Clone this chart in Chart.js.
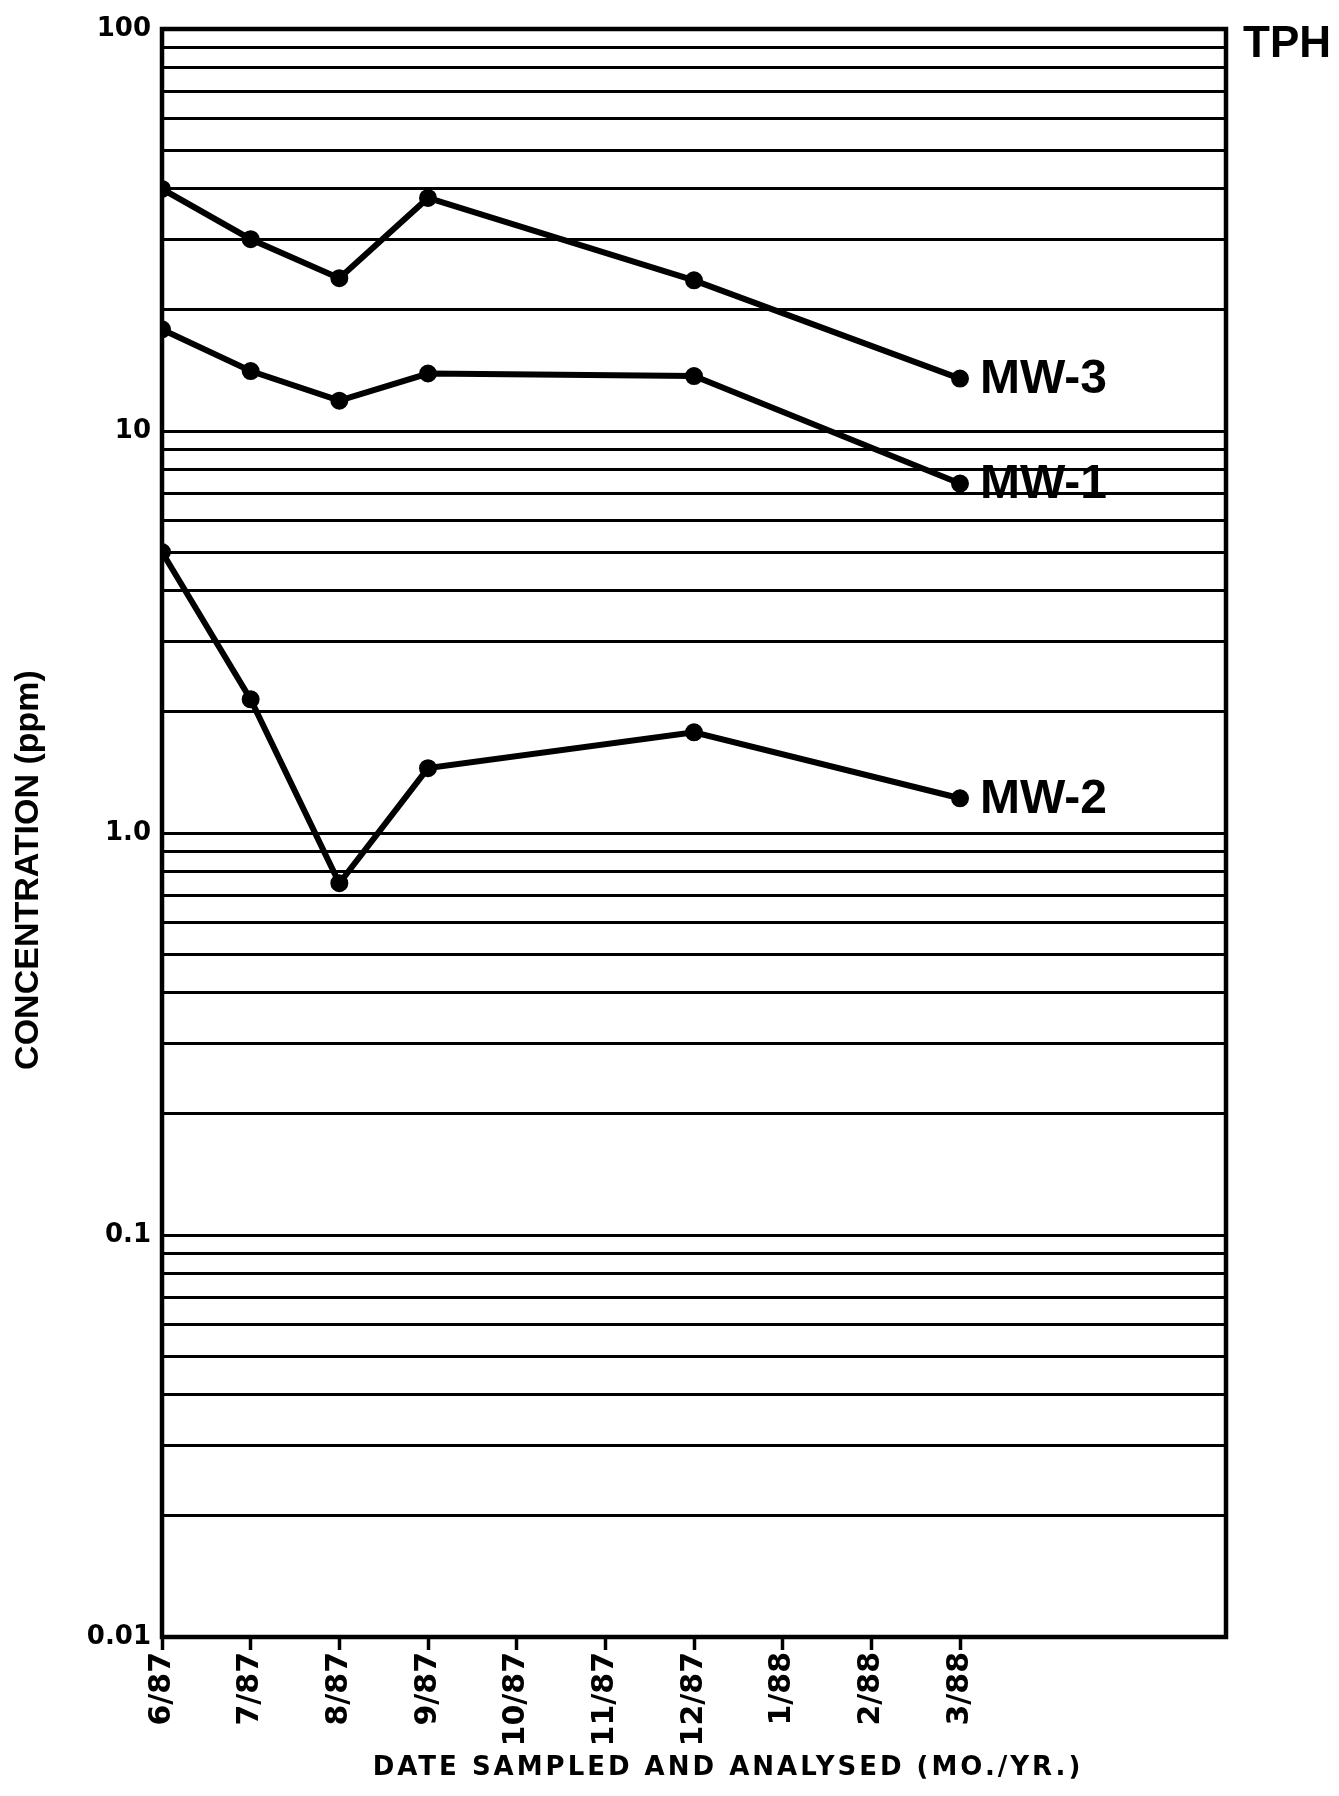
<!DOCTYPE html>
<html lang="en">
<head>
  <meta charset="UTF-8" />
  <title>TPH Concentration</title>
  <script src="https://cdn.jsdelivr.net/npm/chart.js"></script>
  <style>
    body { margin: 0; background: #fff; }
    #wrap { width: 1339px; height: 1796px; position: relative; }
  </style>
</head>
<body>
  <div id="wrap"><canvas id="tph"></canvas></div>

  <script>
    // month axis, 6/87 = 0
    const monthLabels = ["6/87", "7/87", "8/87", "9/87", "10/87", "11/87", "12/87", "1/88", "2/88", "3/88"];
    const sampleMonths = [0, 1, 2, 3, 6, 9];

    const mw3 = [40, 30, 24, 38, 23.7, 13.5];
    const mw1 = [17.9, 14.1, 11.9, 13.9, 13.7, 7.4];
    const mw2 = [5.0, 2.15, 0.75, 1.45, 1.78, 1.22];

    const decadeLabels = { "100": "100", "10": "10", "1": "1.0", "0.1": "0.1", "0.01": "0.01" };
    const decades = [0.01, 0.1, 1, 10];

    const toPoints = (vals) => vals.map((v, i) => ({ x: sampleMonths[i], y: v }));

    const ink = "#000";

    const framePlugin = {
      id: "frame",
      beforeDatasetsDraw(chart) {
        const { ctx, chartArea: a } = chart;
        ctx.save();
        ctx.strokeStyle = ink;
        ctx.lineWidth = 4.5;
        ctx.strokeRect(a.left, a.top, a.right - a.left, a.bottom - a.top);
        ctx.restore();
      }
    };

    const textPlugin = {
      id: "texts",
      afterDatasetsDraw(chart) {
        const { ctx, chartArea: a } = chart;
        ctx.save();
        ctx.fillStyle = ink;

        // series names next to last point
        ctx.font = "bold 48px 'Liberation Sans', Arial, sans-serif";
        ctx.textAlign = "left";
        ctx.textBaseline = "middle";
        chart.data.datasets.forEach((ds, i) => {
          const pts = chart.getDatasetMeta(i).data;
          const last = pts[pts.length - 1];
          ctx.fillText(ds.label, last.x + 20, last.y + 1);
        });

        // TPH tag
        ctx.font = "bold 44px 'Liberation Sans', Arial, sans-serif";
        ctx.fillText("TPH", a.right + 17, a.top + 16);

        // y title
        ctx.save();
        ctx.translate(29, (a.top + a.bottom) / 2 + 37);
        ctx.rotate(-Math.PI / 2);
        ctx.textAlign = "center";
        ctx.font = "bold 34px 'Liberation Sans', Arial, sans-serif";
        ctx.fillText("CONCENTRATION (ppm)", 0, 0);
        ctx.restore();

        // x title
        ctx.font = "bold 26px 'DejaVu Sans', sans-serif";
        ctx.letterSpacing = "3px";
        ctx.textAlign = "center";
        ctx.fillText("DATE SAMPLED AND ANALYSED (MO./YR.)", (a.left + a.right) / 2 + 34, 1768);
        ctx.restore();
      }
    };

    const lineStyle = {
      borderColor: ink,
      backgroundColor: ink,
      borderWidth: 6,
      pointRadius: 6,
      pointHoverRadius: 6,
      tension: 0,
      fill: false
    };

    new Chart(document.getElementById("tph"), {
      type: "line",
      data: {
        datasets: [
          { label: "MW-3", data: toPoints(mw3), ...lineStyle },
          { label: "MW-1", data: toPoints(mw1), ...lineStyle },
          { label: "MW-2", data: toPoints(mw2), ...lineStyle }
        ]
      },
      options: {
        responsive: true,
        maintainAspectRatio: false,
        animation: false,
        layout: { padding: { top: 29, right: 113, left: 0, bottom: 0 } },
        plugins: {
          legend: { display: false },
          tooltip: { enabled: false }
        },
        scales: {
          x: {
            type: "linear",
            min: 0,
            max: 12,
            afterBuildTicks: (scale) => {
              scale.ticks = monthLabels.map((_, i) => ({ value: i }));
            },
            afterFit: (scale) => { scale.height = 159; },
            border: { display: false },
            grid: {
              drawOnChartArea: false,
              drawTicks: true,
              tickLength: 13,
              tickWidth: 3.5,
              tickColor: ink
            },
            ticks: {
              autoSkip: false,
              minRotation: 90,
              maxRotation: 90,
              padding: 2,
              color: ink,
              font: { family: "'DejaVu Sans', sans-serif", size: 30, weight: "bold" },
              callback: (v) => monthLabels[v]
            }
          },
          y: {
            type: "logarithmic",
            min: 0.01,
            max: 100,
            afterBuildTicks: (scale) => {
              const t = [];
              decades.forEach(d => {
                for (let m = 1; m <= 9; m++) t.push({ value: m * d });
              });
              t.push({ value: 100 });
              scale.ticks = t;
            },
            afterFit: (scale) => { scale.width = 162; },
            border: { display: false },
            grid: {
              color: ink,
              lineWidth: 3,
              drawTicks: false
            },
            ticks: {
              autoSkip: false,
              padding: 11,
              color: ink,
              font: { family: "'DejaVu Sans', sans-serif", size: 26, weight: "bold" },
              callback: (v) => {
                const k = String(+v.toPrecision(6));
                return decadeLabels[k] !== undefined ? decadeLabels[k] : "";
              }
            }
          }
        }
      },
      plugins: [framePlugin, textPlugin]
    });
  </script>
</body>
</html>
